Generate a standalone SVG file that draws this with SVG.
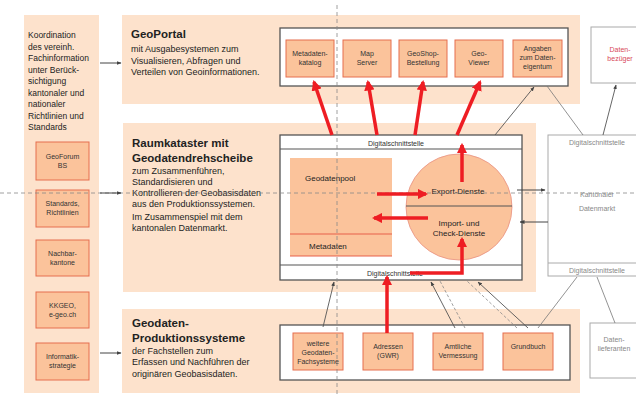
<svg xmlns="http://www.w3.org/2000/svg" width="636" height="396" viewBox="0 0 636 396">
<defs>
<style>
.panel{fill:#fde2cc}
.inner{fill:#fff;stroke:#555;stroke-width:1.3}
.obox{fill:#fbc39b;stroke:#e66e4e;stroke-width:1}
.gbox{fill:#fff;stroke:#aaa;stroke-width:1}
.t{font-family:"Liberation Sans",Arial,sans-serif;font-size:9px;fill:#222}
.tl{font-family:"Liberation Sans",Arial,sans-serif;font-size:8.5px;fill:#222}
.h{font-family:"Liberation Sans",Arial,sans-serif;font-size:11.5px;font-weight:bold;fill:#222}
.s{font-family:"Liberation Sans",Arial,sans-serif;font-size:7px;fill:#333;text-anchor:middle}
.g{font-family:"Liberation Sans",Arial,sans-serif;font-size:7px;fill:#888;text-anchor:middle}
.red{stroke:#ee1d23;stroke-width:3.5;fill:none;marker-end:url(#ra)}
.blk{stroke:#444;stroke-width:1;fill:none;marker-end:url(#ba)}
.gl{stroke:#777;stroke-width:0.8;fill:none}
.gla{stroke:#555;stroke-width:0.9;fill:none;marker-end:url(#ba)}
.gd{stroke:#888;stroke-width:0.8;fill:none;stroke-dasharray:3 2}
.dash{stroke:#888;stroke-width:0.8;stroke-dasharray:4 3;fill:none}
</style>
<marker id="ra" viewBox="0 0 10 10" refX="8" refY="5" markerWidth="3" markerHeight="3" orient="auto"><path d="M0,0 L10,5 L0,10 z" fill="#ee1d23"/></marker>
<marker id="ba" viewBox="0 0 10 10" refX="9" refY="5" markerWidth="5" markerHeight="5" orient="auto"><path d="M0,1 L10,5 L0,9 z" fill="#444"/></marker>
</defs>
<rect width="636" height="396" fill="#fff"/>

<g id="left-panel">
<rect class="panel" x="24" y="15" width="75" height="378"/>
<text class="tl" x="28" y="38">Koordination</text>
<text class="tl" x="28" y="49.5">des vereinh.</text>
<text class="tl" x="28" y="61">Fachinformation</text>
<text class="tl" x="28" y="72.5">unter Berück-</text>
<text class="tl" x="28" y="84">sichtigung</text>
<text class="tl" x="28" y="95.5">kantonaler und</text>
<text class="tl" x="28" y="107">nationaler</text>
<text class="tl" x="28" y="118.5">Richtlinien und</text>
<text class="tl" x="28" y="130">Standards</text>
</g>
<g id="geoforum"><rect class="obox" x="36" y="142" width="53" height="38"/><text class="s" x="62.5" y="159">GeoForum</text><text class="s" x="62.5" y="168">BS</text></g>
<g id="standards"><rect class="obox" x="36" y="190" width="53" height="37"/><text class="s" x="62.5" y="206">Standards,</text><text class="s" x="62.5" y="215">Richtlinien</text></g>
<g id="nachbarkantone"><rect class="obox" x="36" y="240" width="53" height="36"/><text class="s" x="62.5" y="256">Nachbar-</text><text class="s" x="62.5" y="265">kantone</text></g>
<g id="kkgeo"><rect class="obox" x="36" y="292" width="53" height="36"/><text class="s" x="62.5" y="308">KKGEO,</text><text class="s" x="62.5" y="317">e-geo.ch</text></g>
<g id="informatik"><rect class="obox" x="36" y="343" width="53" height="37"/><text class="s" x="62.5" y="359">Informatik-</text><text class="s" x="62.5" y="368">strategie</text></g>

<g id="geoportal">
<rect class="panel" x="122" y="15" width="458" height="89"/>
<text class="h" x="131" y="38">GeoPortal</text>
<text class="t" x="131" y="52">mit Ausgabesystemen zum</text>
<text class="t" x="131" y="63.5">Visualisieren, Abfragen und</text>
<text class="t" x="131" y="75">Verteilen von Geoinformationen.</text>
<rect class="inner" x="280" y="28" width="288" height="58"/>
</g>
<g id="metadatenkatalog"><rect class="obox" x="286" y="40" width="48" height="37"/><text class="s" x="310" y="56">Metadaten-</text><text class="s" x="310" y="65">katalog</text></g>
<g id="mapserver"><rect class="obox" x="343" y="40" width="48" height="37"/><text class="s" x="367" y="56">Map</text><text class="s" x="367" y="65">Server</text></g>
<g id="geoshop"><rect class="obox" x="399" y="40" width="48" height="37"/><text class="s" x="423" y="56">GeoShop-</text><text class="s" x="423" y="65">Bestellung</text></g>
<g id="geoviewer"><rect class="obox" x="455" y="40" width="48" height="37"/><text class="s" x="479" y="56">Geo-</text><text class="s" x="479" y="65">Viewer</text></g>
<g id="dateneigentum"><rect class="obox" x="513" y="40" width="49" height="37"/><text class="s" x="537.5" y="51">Angaben</text><text class="s" x="537.5" y="60">zum Daten-</text><text class="s" x="537.5" y="69">eigentum</text></g>
<g id="datenbezueger"><rect class="gbox" x="591" y="27" width="50" height="56"/><text class="s" x="620" y="52" style="fill:#d8485a">Daten-</text><text class="s" x="620" y="61" style="fill:#d8485a">bezüger</text></g>

<g id="raumkataster">
<rect class="panel" x="123" y="123" width="413" height="169"/>
<text class="h" x="132" y="147">Raumkataster mit</text>
<text class="h" x="132" y="162">Geodatendrehscheibe</text>
<text class="t" x="132" y="174">zum Zusammenführen,</text>
<text class="t" x="132" y="185">Standardisieren und</text>
<text class="t" x="132" y="196">Kontrollieren der Geobasisdaten</text>
<text class="t" x="132" y="207">aus den Produktionssystemen.</text>
<text class="t" x="132" y="220">Im Zusammenspiel mit dem</text>
<text class="t" x="132" y="231">kantonalen Datenmarkt.</text>
<rect class="inner" x="280" y="135" width="242" height="145"/>
<line x1="280" y1="149" x2="522" y2="149" stroke="#555" stroke-width="1.2"/>
<line x1="280" y1="265" x2="522" y2="265" stroke="#555" stroke-width="1.2"/>
<text class="s" x="396" y="146">Digitalschnittstelle</text>
<text class="s" x="395" y="276">Digitalschnittstelle</text>
</g>
<g id="geodatenpool">
<rect x="290" y="158" width="102" height="98" fill="#fbc39b"/>
<line x1="290" y1="234" x2="392" y2="234" stroke="#e8604a" stroke-width="1.2"/>
<line x1="290" y1="256" x2="392" y2="256" stroke="#e8604a" stroke-width="1.2"/>
<text class="t" x="305" y="181" style="font-size:8px">Geodatenpool</text>
<text class="t" x="309" y="249" style="font-size:8px">Metadaten</text>
</g>
<g id="dienste">
<circle cx="459" cy="207" r="53" fill="#fbc39b" stroke="#e89080" stroke-width="0.8"/>
<line x1="406" y1="206" x2="512" y2="206" stroke="#555" stroke-width="1"/>
<text class="t" x="458" y="194" text-anchor="middle" style="font-size:8px">Export-Dienste</text>
<text class="t" x="459" y="226" text-anchor="middle" style="font-size:8px">Import- und</text>
<text class="t" x="459" y="236" text-anchor="middle" style="font-size:8px">Check-Dienste</text>
</g>
<g id="datenmarkt">
<rect class="gbox" x="548" y="135" width="100" height="141"/>
<line x1="548" y1="263" x2="636" y2="263" stroke="#aaa" stroke-width="1"/>
<text class="g" x="597" y="145">Digitalschnittstelle</text>
<text class="g" x="597" y="197">Kantonaler</text>
<text class="g" x="597" y="211">Datenmarkt</text>
<text class="g" x="597" y="273">Digitalschnittstelle</text>
</g>

<g id="produktion">
<rect class="panel" x="122" y="309" width="458" height="84"/>
<text class="h" x="132" y="327">Geodaten-</text>
<text class="h" x="132" y="342">Produktionssysteme</text>
<text class="t" x="132" y="354">der Fachstellen zum</text>
<text class="t" x="132" y="365">Erfassen und Nachführen der</text>
<text class="t" x="132" y="377">originären Geobasisdaten.</text>
<rect class="inner" x="280" y="325" width="290" height="55"/>
</g>
<g id="fachsysteme"><rect class="obox" x="293" y="333" width="50" height="37"/><text class="s" x="318" y="346">weitere</text><text class="s" x="318" y="355">Geodaten-</text><text class="s" x="318" y="364">Fachsysteme</text></g>
<g id="adressen"><rect class="obox" x="363" y="333" width="50" height="37"/><text class="s" x="388" y="349">Adressen</text><text class="s" x="388" y="358">(GWR)</text></g>
<g id="av"><rect class="obox" x="433" y="333" width="50" height="37"/><text class="s" x="458" y="349">Amtliche</text><text class="s" x="458" y="358">Vermessung</text></g>
<g id="grundbuch"><rect class="obox" x="503" y="333" width="50" height="37"/><text class="s" x="528" y="349">Grundbuch</text></g>
<g id="datenlieferanten"><rect class="gbox" x="590" y="323" width="50" height="55"/><text class="g" x="614" y="342">Daten-</text><text class="g" x="614" y="351">lieferanten</text></g>

<g id="connectors">
<line class="dash" x1="337" y1="5" x2="337" y2="396"/>
<line class="dash" x1="0" y1="193" x2="636" y2="193"/>
<line class="blk" x1="100" y1="63" x2="121" y2="63"/>
<line class="blk" x1="100" y1="193" x2="121" y2="193"/>
<line class="blk" x1="100" y1="353" x2="121" y2="353"/>
<line class="red" x1="332" y1="135" x2="314" y2="82"/>
<line class="red" x1="377" y1="135" x2="368" y2="82"/>
<line class="red" x1="415" y1="135" x2="423" y2="82"/>
<line class="red" x1="457" y1="135" x2="480" y2="82"/>
<line class="red" x1="462" y1="182" x2="462" y2="145"/>
<line class="red" x1="377" y1="194" x2="426" y2="194"/>
<line class="red" x1="428" y1="218" x2="374" y2="218"/>
<line class="red" x1="387" y1="333" x2="387" y2="277"/>
<path class="red" d="M410,273 H462 V239"/>
<line class="blk" x1="517" y1="190" x2="545" y2="190"/>
<line class="blk" x1="548" y1="222" x2="520" y2="222"/>
<line class="gla" x1="495" y1="135" x2="534" y2="87"/>
<line class="gl" x1="547" y1="86" x2="583" y2="135"/>
<line class="gla" x1="603" y1="135" x2="616" y2="85"/>
<line class="gla" x1="323" y1="327" x2="334" y2="282"/>
<line class="gla" x1="455" y1="328" x2="431" y2="282"/>
<line class="gd" x1="465" y1="328" x2="440" y2="281"/>
<line class="gd" x1="517" y1="328" x2="467" y2="281"/>
<line class="gla" x1="528" y1="328" x2="478" y2="282"/>
<line class="gl" x1="538" y1="328" x2="577" y2="277"/>
<line class="gl" x1="597" y1="277" x2="615" y2="323"/>
</g>
</svg>
